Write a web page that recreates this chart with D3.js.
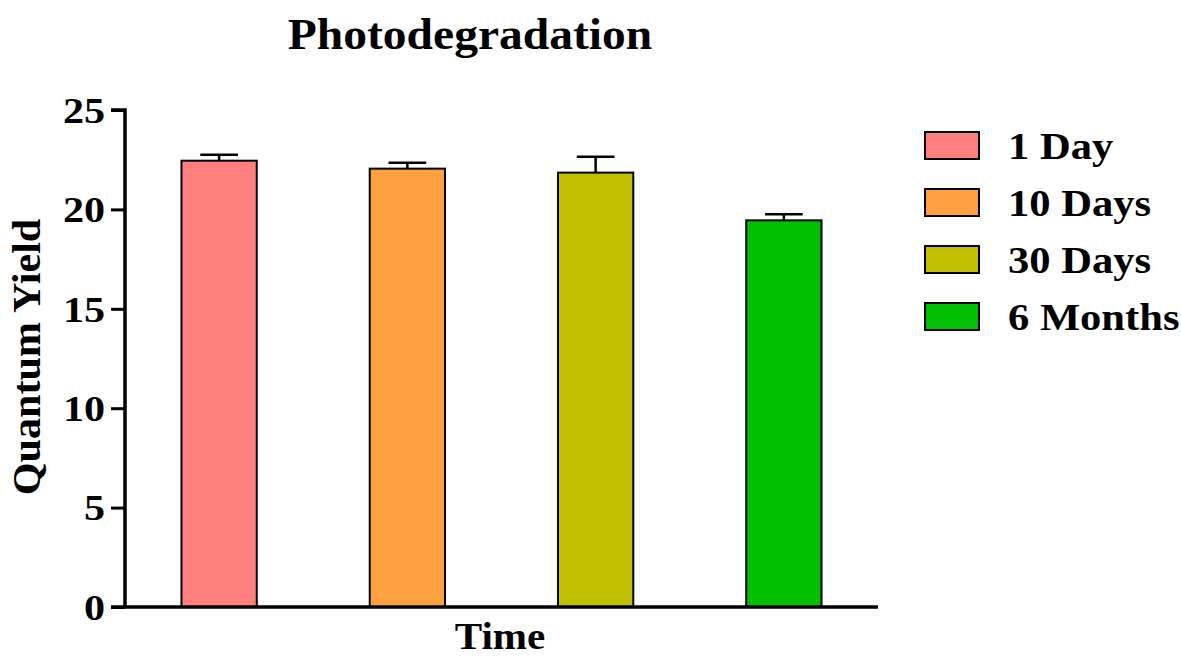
<!DOCTYPE html>
<html><head><meta charset="utf-8">
<script src="https://cdn.jsdelivr.net/npm/d3@7"></script>
<style>body{margin:0;background:#fff}svg{display:block}text{font-family:"Liberation Serif","Times New Roman",serif;font-weight:bold;fill:#000}</style>
</head><body><svg id="c" width="1181" height="658"></svg>
<script>
const categories = ["1 Day","10 Days","30 Days","6 Months"];
const values = [22.45, 22.05, 21.85, 19.45];
const errors = [0.3, 0.3, 0.8, 0.3];
const colors = ["#FF7F7F","#FFA040","#C0C000","#00C000"];
const yTicks = [0,5,10,15,20,25];

const svg = d3.select("#c");
const m = {l:125, r:878, t:110, b:607};
const x = d3.scaleBand().domain(categories).range([m.l, m.r]).paddingInner(0.6).paddingOuter(0.3);
const y = d3.scaleLinear().domain([0,25]).range([m.b, m.t]);

// widen glyphs horizontally (reference font is wide)
function stretch(sel, f){
  sel.each(function(){
    const w = this.getComputedTextLength();
    d3.select(this).attr("textLength", w*f).attr("lengthAdjust","spacingAndGlyphs");
  });
}

// bars
const g = svg.append("g");
g.selectAll("rect.bar").data(categories).join("rect")
  .attr("x", d=>x(d)).attr("width", x.bandwidth())
  .attr("y", (d,i)=>y(values[i])).attr("height",(d,i)=>y(0)-y(values[i]))
  .attr("fill",(d,i)=>colors[i]).attr("stroke","#000").attr("stroke-width",2);
// error bars (upper only)
categories.forEach((d,i)=>{
  const cx = x(d)+x.bandwidth()/2, hw = x.bandwidth()/4;
  g.append("line").attr("x1",cx).attr("x2",cx).attr("y1",y(values[i])).attr("y2",y(values[i]+errors[i])).attr("stroke","#000").attr("stroke-width",2.5);
  g.append("line").attr("x1",cx-hw).attr("x2",cx+hw).attr("y1",y(values[i]+errors[i])).attr("y2",y(values[i]+errors[i])).attr("stroke","#000").attr("stroke-width",2.5);
});

// y axis
const ya = svg.append("g").attr("transform",`translate(${m.l},0)`)
  .call(d3.axisLeft(y).tickValues(yTicks).tickSize(14).tickPadding(6).tickFormat(d3.format("d")));
ya.select(".domain").attr("stroke-width",3.5).attr("d",`M-14,${m.t}H0V${m.b}`);
ya.selectAll(".tick line").attr("stroke-width",3);
ya.selectAll(".tick text").style("font-size","36px").attr("dy","0.34em").style("font-family","Liberation Serif").style("font-weight","bold").call(stretch,1.17);

// x axis
svg.append("line").attr("x1",m.l-14).attr("x2",m.r).attr("y1",m.b).attr("y2",m.b).attr("stroke","#000").attr("stroke-width",3.5);

// titles
svg.append("text").attr("x",470).attr("y",49).attr("text-anchor","middle").style("font-size","44px").text("Photodegradation").call(stretch,1.08);
svg.append("text").attr("x",500).attr("y",649).attr("text-anchor","middle").style("font-size","37px").text("Time").call(stretch,1.11);
svg.append("text").attr("transform",`translate(40,357) rotate(-90)`).attr("text-anchor","middle").style("font-size","39px").text("Quantum Yield").call(stretch,1.08);

// legend
const lg = svg.append("g");
categories.forEach((d,i)=>{
  const yy = 132 + i*57;
  lg.append("rect").attr("x",925).attr("y",yy).attr("width",54).attr("height",27).attr("fill",colors[i]).attr("stroke","#000").attr("stroke-width",2);
  lg.append("text").attr("x",1008).attr("y",yy+27).style("font-size","38px").text(d).call(stretch,1.12);
});
</script></body></html>
